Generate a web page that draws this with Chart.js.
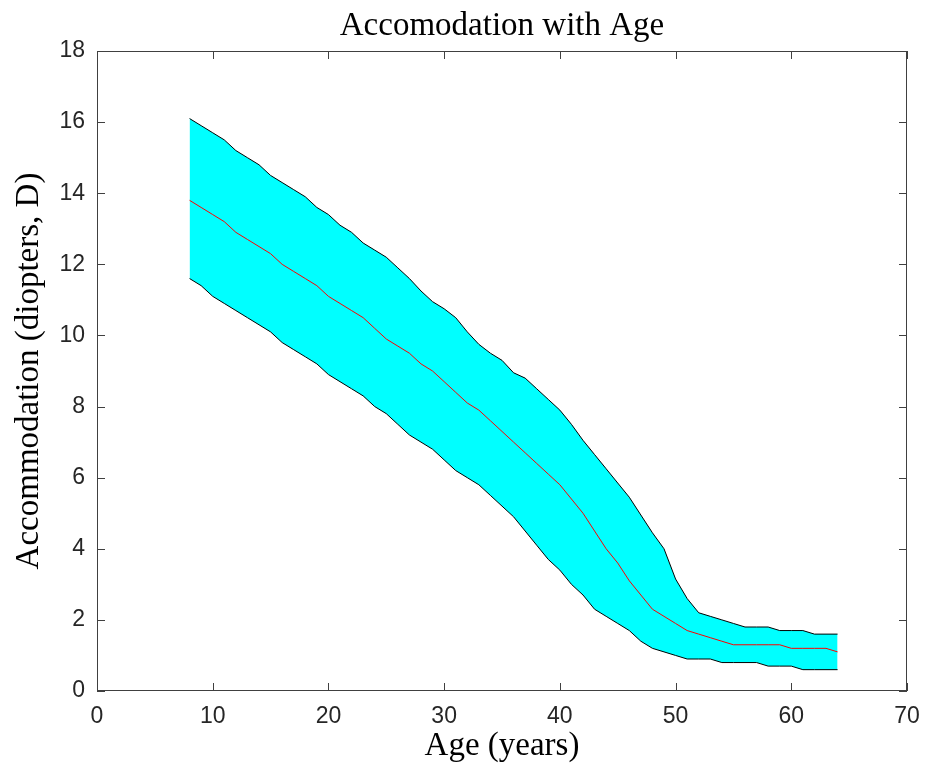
<!DOCTYPE html>
<html>
<head>
<meta charset="utf-8">
<script src="https://cdn.jsdelivr.net/npm/chart.js@4/dist/chart.umd.min.js"></script>
<style>
  body { margin: 0; background: #fff; }
  canvas { display: block; }
</style>
</head>
<body>
<canvas id="chart" width="925" height="766"></canvas>
<script>
const ages = [8, 9, 10, 11, 12, 13, 14, 15, 16, 17, 18, 19, 20, 21, 22, 23, 24, 25, 26, 27,
  28, 29, 30, 31, 32, 33, 34, 35, 36, 37, 38, 39, 40, 41, 42, 43, 44, 45, 46, 47,
  48, 49, 50, 51, 52, 53, 54, 55, 56, 57, 58, 59, 60, 61, 62, 63, 64];

const upperBound = [16.1, 15.9, 15.7, 15.5, 15.2, 15.0, 14.8, 14.5, 14.3, 14.1, 13.9, 13.6, 13.4, 13.1, 12.9, 12.6, 12.4, 12.2, 11.9, 11.6,
  11.25, 10.95, 10.75, 10.5, 10.1, 9.75, 9.5, 9.3, 8.95, 8.8, 8.5, 8.2, 7.9, 7.5, 7.05, 6.65, 6.25, 5.85, 5.45, 4.95,
  4.45, 4.0, 3.15, 2.6, 2.2, 2.1, 2.0, 1.9, 1.8, 1.8, 1.8, 1.7, 1.7, 1.7, 1.6, 1.6, 1.6];

const meanValues = [13.8, 13.6, 13.4, 13.2, 12.9, 12.7, 12.5, 12.3, 12.0, 11.8, 11.6, 11.4, 11.1, 10.9, 10.7, 10.5, 10.2, 9.9, 9.7, 9.5,
  9.2, 9.0, 8.7, 8.4, 8.1, 7.9, 7.6, 7.3, 7.0, 6.7, 6.4, 6.1, 5.8, 5.4, 5.0, 4.5, 4.0, 3.6, 3.1, 2.7,
  2.3, 2.1, 1.9, 1.7, 1.6, 1.5, 1.4, 1.3, 1.3, 1.3, 1.3, 1.3, 1.2, 1.2, 1.2, 1.2, 1.1];

const lowerBound = [11.6, 11.4, 11.1, 10.9, 10.7, 10.5, 10.3, 10.1, 9.8, 9.6, 9.4, 9.2, 8.9, 8.7, 8.5, 8.3, 8.0, 7.8, 7.5, 7.2,
  7.0, 6.8, 6.5, 6.2, 6.0, 5.8, 5.5, 5.2, 4.9, 4.5, 4.1, 3.7, 3.4, 3.0, 2.7, 2.3, 2.1, 1.9, 1.7, 1.4,
  1.2, 1.1, 1.0, 0.9, 0.9, 0.9, 0.8, 0.8, 0.8, 0.8, 0.7, 0.7, 0.7, 0.6, 0.6, 0.6, 0.6];

const titleText = 'Accomodation with Age';
const xLabel = 'Age (years)';
const yLabel = 'Accommodation (diopters, D)';

const toPoints = (values) => values.map((v, i) => ({ x: ages[i], y: v }));

const axisColor = '#404040';
const serif = '"Liberation Serif", "DejaVu Serif", serif';
const sans = '"Liberation Sans", Arial, sans-serif';

// matlab style box with inward ticks + title
const boxPlugin = {
  id: 'box',
  afterDraw(chart) {
    const { ctx, chartArea: a, scales } = chart;
    ctx.save();
    ctx.strokeStyle = axisColor;
    ctx.lineWidth = 1;
    ctx.strokeRect(a.left + 0.5, a.top + 0.5, a.right - a.left - 1, a.bottom - a.top - 1);
    const len = 8;
    ctx.beginPath();
    scales.x.ticks.forEach((t) => {
      const px = Math.round(scales.x.getPixelForValue(t.value)) + 0.5;
      ctx.moveTo(px, a.bottom); ctx.lineTo(px, a.bottom - len);
      ctx.moveTo(px, a.top); ctx.lineTo(px, a.top + len);
    });
    scales.y.ticks.forEach((t) => {
      const py = Math.round(scales.y.getPixelForValue(t.value)) + 0.5;
      ctx.moveTo(a.left, py); ctx.lineTo(a.left + len, py);
      ctx.moveTo(a.right, py); ctx.lineTo(a.right - len, py);
    });
    ctx.stroke();

    ctx.fillStyle = '#000';
    ctx.font = '33px ' + serif;
    ctx.textAlign = 'center';
    ctx.textBaseline = 'alphabetic';
    ctx.fillText(titleText, (a.left + a.right) / 2, 35);
    ctx.restore();
  }
};

const data = {
  datasets: [
    {
      label: 'Mean',
      data: toPoints(meanValues),
      borderColor: '#ff0000',
      borderWidth: 1,
      pointRadius: 0,
      fill: false,
      order: 0,
    },
    {
      label: 'Upper',
      data: toPoints(upperBound),
      borderColor: '#000000',
      borderWidth: 1,
      backgroundColor: '#00ffff',
      pointRadius: 0,
      fill: '+1',
      order: 1,
    },
    {
      label: 'Lower',
      data: toPoints(lowerBound),
      borderColor: '#000000',
      borderWidth: 1,
      pointRadius: 0,
      fill: false,
      order: 2,
    },
  ],
};

const config = {
  type: 'line',
  data,
  plugins: [boxPlugin],
  options: {
    responsive: false,
    animation: false,
    devicePixelRatio: 1,
    layout: {
      padding: { top: 51, right: 18, bottom: 0, left: 0 },
    },
    plugins: {
      legend: { display: false },
      tooltip: { enabled: false },
      filler: { drawTime: 'beforeDatasetsDraw' },
    },
    scales: {
      x: {
        type: 'linear',
        min: 0,
        max: 70,
        border: { display: false },
        grid: { display: false, drawTicks: false },
        ticks: {
          stepSize: 10,
          padding: 12,
          color: '#262626',
          font: { family: sans, size: 23 },
        },
        title: {
          display: true,
          text: xLabel,
          color: '#000',
          font: { family: serif, size: 33 },
          padding: { top: -3, bottom: 0 },
        },
        afterFit: (scale) => {
          scale.height = 75;
          scale.paddingLeft = 0;
          scale.paddingRight = 0;
        },
      },
      y: {
        min: 0,
        max: 18,
        border: { display: false },
        grid: { display: false, drawTicks: false },
        ticks: {
          stepSize: 2,
          padding: 12,
          color: '#262626',
          font: { family: sans, size: 23 },
        },
        title: {
          display: true,
          text: yLabel,
          color: '#000',
          font: { family: serif, size: 33 },
          padding: { top: 10, bottom: 0 },
        },
        afterFit: (scale) => {
          scale.width = 97;
          scale.paddingTop = 0;
          scale.paddingBottom = 0;
        },
      },
    },
  },
};

new Chart(document.getElementById('chart'), config);
</script>
</body>
</html>
